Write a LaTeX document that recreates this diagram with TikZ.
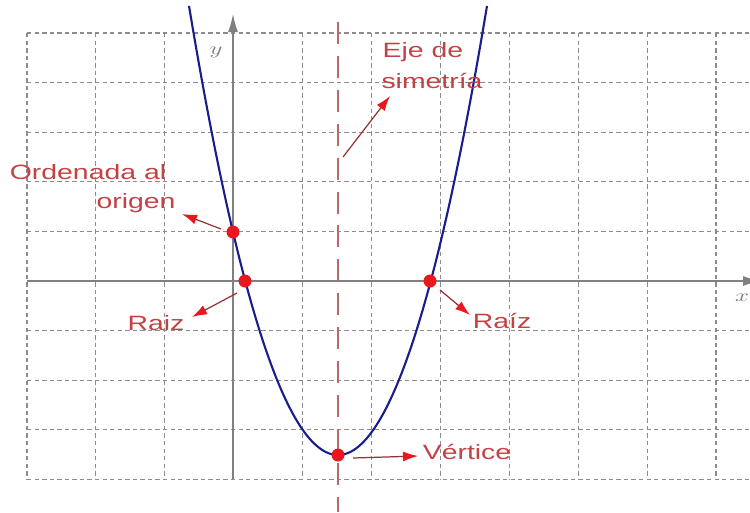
\documentclass[tikz,border=0pt]{standalone}
\usepackage{fontspec}
\setmainfont{Liberation Sans}
\usetikzlibrary{arrows.meta}
\definecolor{lbl}{RGB}{196,66,66}
\definecolor{dotred}{RGB}{232,24,30}
\definecolor{arrline}{RGB}{150,50,50}
\definecolor{curve}{RGB}{25,30,140}
\definecolor{symax}{RGB}{185,105,105}
\definecolor{gridc}{RGB}{140,140,140}
\definecolor{axisc}{RGB}{128,128,128}
\begin{document}
\begin{tikzpicture}[x=0.02cm,y=-0.02cm,
  gridline/.style={gridc, line width=0.6pt, dash pattern=on 2.5pt off 1.8pt},
  lbltext/.style={text=lbl, font=\fontsize{11.8}{14}\selectfont, xscale=1.37, inner sep=0pt, anchor=base},
  axislbl/.style={text=axisc, font=\fontsize{10}{12}\selectfont, xscale=1.39, inner sep=0pt},
  redpt/.style={circle, fill=dotred, minimum size=0.26cm, inner sep=0pt},
  arr/.style={arrline, line width=0.7pt, -{Latex[length=0.3cm,width=0.2cm,color=dotred]}},
  axisline/.style={axisc, line width=1.4pt, -{Latex[length=0.38cm,width=0.2cm]}}]
\useasboundingbox (0,0) rectangle (750,512);
\clip (0,0) rectangle (750,512);
% grid
\foreach \i in {0,...,10} \draw[gridline] ({27+68.9*\i},33) -- ({27+68.9*\i},479);
\foreach \j in {0,...,9} \draw[gridline] (27,{33+49.6*\j}) -- (750,{33+49.6*\j});
% axes
\coordinate (xs) at (27,281);
\coordinate (xe) at (762,281);
\coordinate (ys) at (233,479);
\coordinate (ye) at (233,13);
\draw[axisline] (xs) -- (xe);
\draw[axisline] (ys) -- (ye);
\node[axislbl] (ylab) at (216,52) {$y$};
\node[axislbl] (xlab) at (742,298) {$x$};
% symmetry axis
\coordinate (sa) at (338,22);
\coordinate (sb) at (338,512);
\draw[symax, line width=1.1pt, dash pattern=on 12.5pt off 6.8pt] (sa) -- (sb);
% parabola
\draw[curve, line width=1.2pt] plot[domain=189:487, samples=120, smooth] (\x, {455-202.3*((\x-338)/100)^2});
% points
\node[redpt] (yint) at (233,232) {};
\node[redpt] (r1) at (245,281) {};
\node[redpt] (r2) at (430,281) {};
\node[redpt] (vtx) at (338,455) {};
% labels
\node[lbltext] (ord1) at (88,179) {Ordenada al};
\node[lbltext] (ord2) at (136,208) {origen};
\node[lbltext] (eje1) at (423,57) {Eje de};
\node[lbltext] (eje2) at (432,88) {simetría};
\node[lbltext] (raiz1) at (156,330) {Raiz};
\node[lbltext] (raiz2) at (502,328) {Raíz};
\node[lbltext] (vert) at (467,459) {Vértice};
% arrows
\coordinate (a1s) at (221,229); \coordinate (a1e) at (182,214);
\coordinate (a2s) at (343,157); \coordinate (a2e) at (390,96);
\coordinate (a3s) at (237,293); \coordinate (a3e) at (192,317);
\coordinate (a4s) at (440,290); \coordinate (a4e) at (470,315);
\coordinate (a5s) at (353,458); \coordinate (a5e) at (418,456);
\draw[arr] (a1s) -- (a1e);
\draw[arr] (a2s) -- (a2e);
\draw[arr] (a3s) -- (a3e);
\draw[arr] (a4s) -- (a4e);
\draw[arr] (a5s) -- (a5e);
\end{tikzpicture}
\end{document}
